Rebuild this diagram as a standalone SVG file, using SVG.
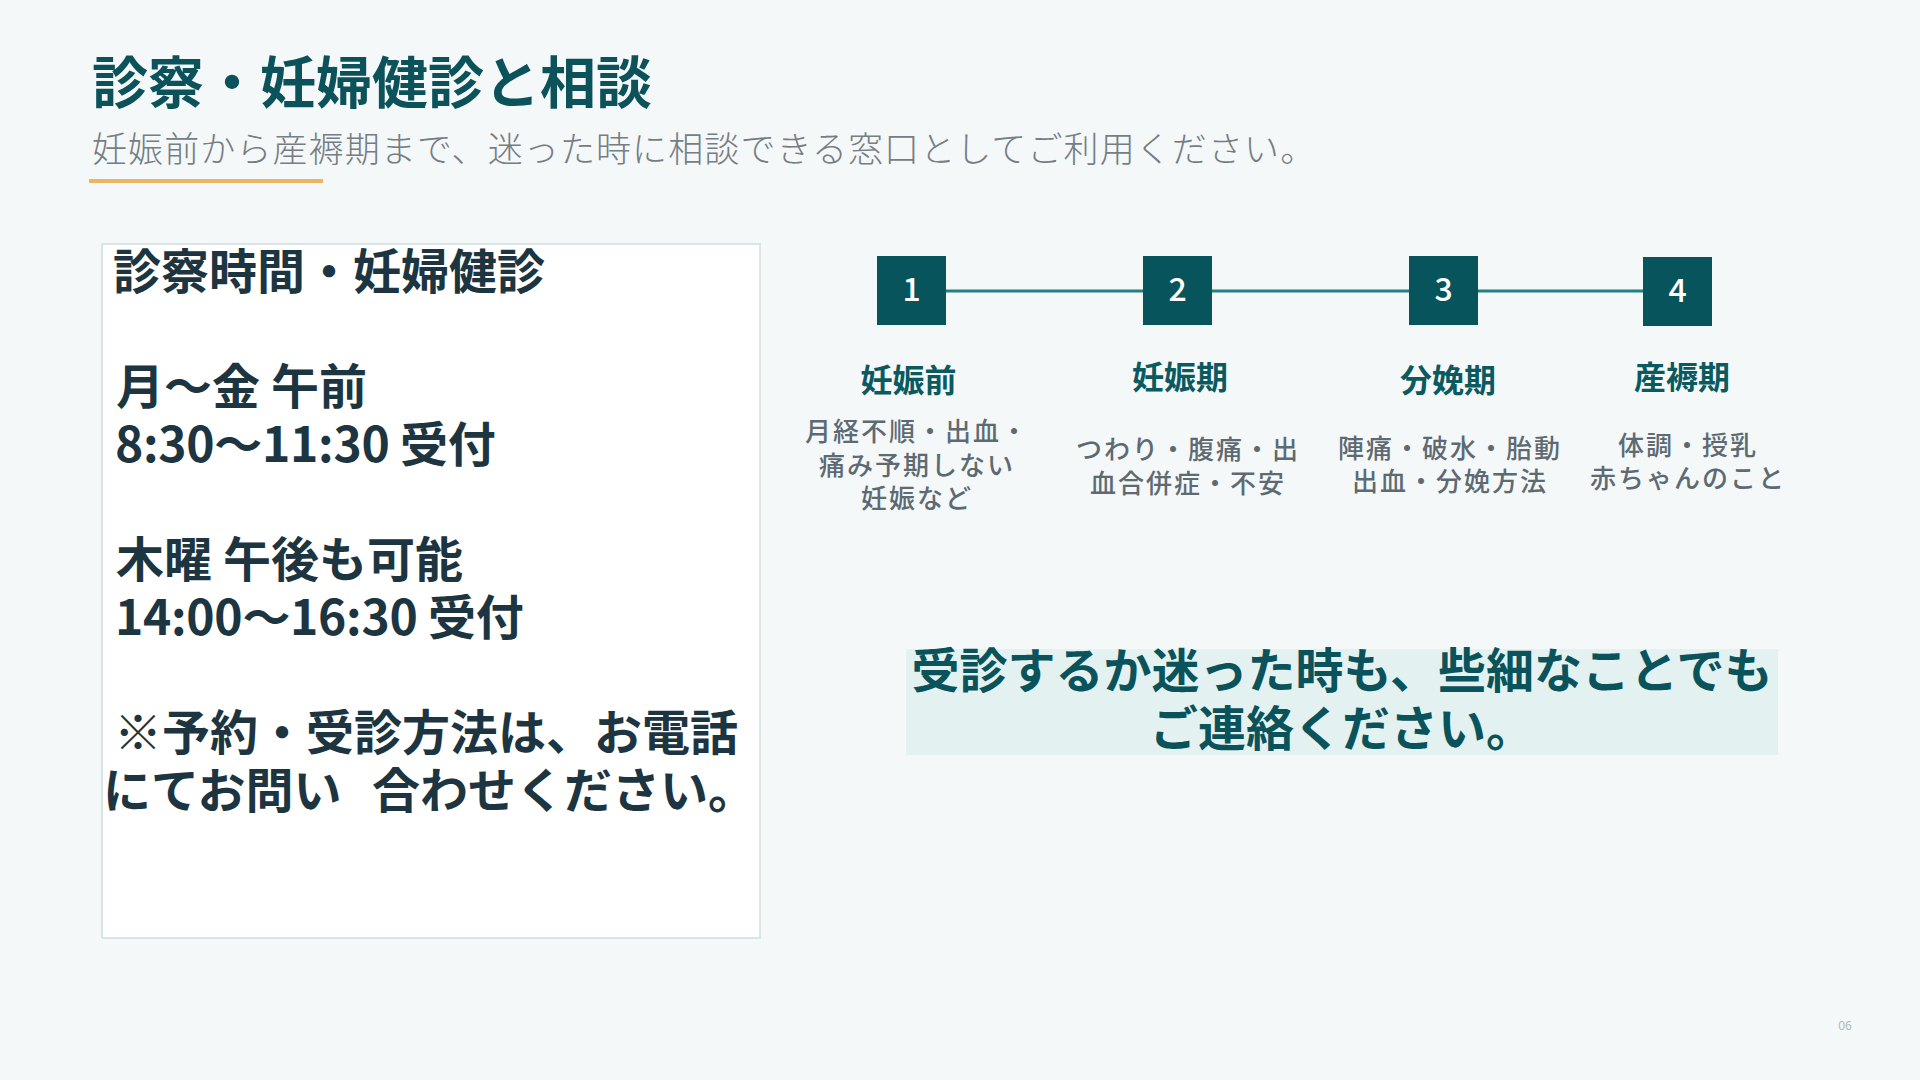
<svg xmlns="http://www.w3.org/2000/svg" width="1920" height="1080" viewBox="0 0 1920 1080">
  <style>
    .jp { font-family: "Noto Sans CJK JP", "Noto Sans", sans-serif; }
    .title { font-size: 56px; font-weight: 700; fill: #0b525a; }
    .sub { font-size: 35px; font-weight: 300; fill: #767d84; letter-spacing: 1.1px; }
    .box-t { font-size: 48px; font-weight: 700; fill: #1d3540; }
    .tight { letter-spacing: -0.3px; }
    .num { font-size: 32px; font-weight: 500; fill: #ffffff; text-anchor: middle; }
    .lab { font-size: 32px; font-weight: 700; fill: #0b5a60; text-anchor: middle; }
    .desc { font-size: 26px; font-weight: 500; fill: #5e6a72; text-anchor: middle; letter-spacing: 2px; }
    .banner-t { font-size: 48px; font-weight: 700; fill: #0b535b; text-anchor: middle; }
    .sq { fill: #08545c; }
    .conn { stroke: #238080; stroke-width: 3; fill: none; }
  </style>
  <rect x="0" y="0" width="1920" height="1080" fill="#f4f8f9"/>

  <g id="header" class="jp">
    <text class="title" x="92" y="103">診察・妊婦健診と相談</text>
    <text class="sub" x="92" y="162">妊娠前から産褥期まで、迷った時に相談できる窓口としてご利用ください。</text>
    <rect x="89" y="179" width="234" height="4" fill="#ebb562"/>
  </g>

  <g id="hours-box" class="jp">
    <rect x="102" y="244" width="658" height="694" fill="#ffffff" stroke="#d9e4e6" stroke-width="2"/>
    <text class="box-t" x="113" y="289">診察時間・妊婦健診</text>
    <text class="box-t" x="116" y="404">月～金 午前</text>
    <text class="box-t tight" x="115" y="462">8:30～11:30 受付</text>
    <text class="box-t" x="116" y="577">木曜 午後も可能</text>
    <text class="box-t tight" x="115" y="635">14:00～16:30 受付</text>
    <text class="box-t" x="114" y="750">※予約・受診方法は、お電話</text>
    <text class="box-t" x="103" y="808">にてお問い<tspan x="372">合わせください。</tspan></text>
  </g>

  <g id="connectors">
    <line class="conn" x1="946" y1="291" x2="1143" y2="291"/>
    <line class="conn" x1="1212" y1="291" x2="1409" y2="291"/>
    <line class="conn" x1="1478" y1="291" x2="1643" y2="291"/>
  </g>

  <g id="step-1" class="jp">
    <rect class="sq" x="877" y="256" width="69" height="69"/>
    <text class="num" x="911.5" y="301">1</text>
    <text class="lab" x="908.5" y="392">妊娠前</text>
    <text class="desc" x="917" y="441">月経不順・出血・</text>
    <text class="desc" x="917" y="475">痛み予期しない</text>
    <text class="desc" x="917" y="508">妊娠など</text>
  </g>

  <g id="step-2" class="jp">
    <rect class="sq" x="1143" y="256" width="69" height="69"/>
    <text class="num" x="1177.5" y="301">2</text>
    <text class="lab" x="1180" y="389">妊娠期</text>
    <text class="desc" x="1188" y="459">つわり・腹痛・出</text>
    <text class="desc" x="1188" y="493">血合併症・不安</text>
  </g>

  <g id="step-3" class="jp">
    <rect class="sq" x="1409" y="256" width="69" height="69"/>
    <text class="num" x="1443.5" y="301">3</text>
    <text class="lab" x="1448" y="392">分娩期</text>
    <text class="desc" x="1450" y="458">陣痛・破水・胎動</text>
    <text class="desc" x="1450" y="491">出血・分娩方法</text>
  </g>

  <g id="step-4" class="jp">
    <rect class="sq" x="1643" y="257" width="69" height="69"/>
    <text class="num" x="1677.5" y="302">4</text>
    <text class="lab" x="1682" y="389">産褥期</text>
    <text class="desc" x="1688" y="455">体調・授乳</text>
    <text class="desc" x="1688" y="488">赤ちゃんのこと</text>
  </g>

  <g id="banner" class="jp">
    <rect x="906" y="649" width="872" height="106" fill="#e3f1f1"/>
    <text class="banner-t" x="1342" y="688">受診するか迷った時も、些細なことでも</text>
    <text class="banner-t" x="1342" y="746">ご連絡ください。</text>
  </g>

  <g id="page-number">
    <text x="1845" y="1030" font-family="Noto Sans, sans-serif" font-size="12" fill="#b3b8bb" text-anchor="middle">06</text>
  </g>
</svg>
